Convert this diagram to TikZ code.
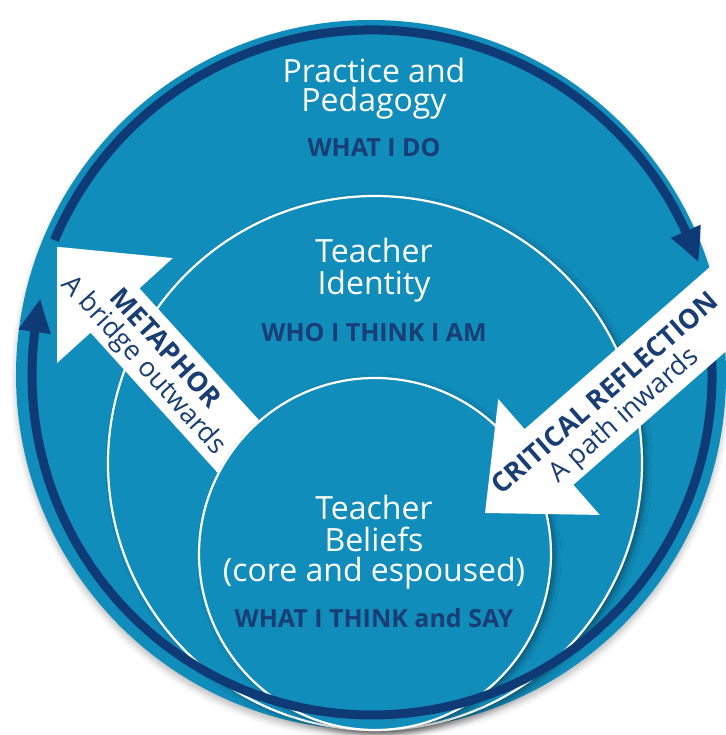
\documentclass[tikz,border=0pt]{standalone}
\usepackage{fontspec}
\setmainfont{Open Sans}
\usetikzlibrary{arrows.meta,shadows.blur,bending}
\definecolor{cblue}{RGB}{17,141,188}
\definecolor{cnavy}{RGB}{14,58,118}
\definecolor{ctext}{RGB}{24,62,115}
\begin{document}
\begin{tikzpicture}[x=1pt,y=1pt,
  outerdisc/.style={fill=cblue, blur shadow={shadow xshift=0pt,shadow yshift=-5pt,shadow blur radius=6pt,shadow opacity=25}},
  rimdisc/.style={fill=cblue, draw=white, line width=2.2pt, blur shadow={shadow xshift=4pt,shadow yshift=-3pt,shadow blur radius=6pt,shadow opacity=40}},
  ring/.style={draw=cnavy, line width=9pt, -{Triangle[length=34pt,width=30pt,bend]}},
  whitearrow/.style={fill=white},
  whitetitle/.style={text=white, font=\fontsize{32}{33}\selectfont, anchor=base, inner sep=0pt},
  navylabel/.style={text=ctext, font=\fontsize{25}{26}\selectfont\bfseries, anchor=base, inner sep=0pt},
  armbold/.style={text=ctext, inner sep=0pt, font=\fontsize{27}{28}\selectfont\bfseries},
  armreg/.style={text=ctext, inner sep=0pt, font=\fontsize{27}{28}\selectfont},
]
\useasboundingbox (0,0) rectangle (725,735);
% outer disc
\path[outerdisc] (371,360) circle[radius=355];
% upper navy arc with arrowhead (right)
\draw[ring] (372,360) ++(157:345) arc[start angle=157, end angle=19, radius=345];
% middle disc
\path[rimdisc] (375,272) circle[radius=267];
% METAPHOR arrow
\begin{scope}[shift={(115,424.5)}, rotate=132.2]
  \fill[whitearrow] (86,0) -- (0,78) -- (0,33) -- (-215,33) -- (-215,-33) -- (0,-33) -- (0,-78) -- cycle;
  \node[armbold, rotate=-47.8] (metaA) at (-62,-13) {METAPHOR};
  \node[armreg, rotate=-47.8] (metaB) at (-60,16) {A bridge outwards};
\end{scope}
% inner disc
\path[rimdisc] (375,181) circle[radius=176];
% lower navy arc with arrowhead (left)
\draw[ring] (372,360) ++(8:340) arc[start angle=8, end angle=-193, radius=340];
% CRITICAL REFLECTION arrow
\begin{scope}[shift={(549,278)}, rotate=221.2]
  \fill[whitearrow] (85,0) -- (0,77) -- (0,37) -- (-270,37) -- (-270,-37) -- (0,-37) -- (0,-77) -- cycle;
  \node[armbold, rotate=41.2] (critA) at (-84,-12) {CRITICAL REFLECTION};
  \node[armreg, rotate=41.2] (critB) at (-84,19) {A path inwards};
\end{scope}
% texts
\node[whitetitle] (p1) at (374,652) {Practice and};
\node[whitetitle] (p2) at (374,623) {Pedagogy};
\node[navylabel] (p3) at (374,578) {WHAT I DO};
\node[whitetitle] (i1) at (374,472) {Teacher};
\node[whitetitle] (i2) at (374,440) {Identity};
\node[navylabel] (i3) at (374,393) {WHO I THINK I AM};
\node[whitetitle] (b1) at (374,215) {Teacher};
\node[whitetitle] (b2) at (374,183) {Beliefs};
\node[whitetitle] (b3) at (374,153) {(core and espoused)};
\node[navylabel] (b4) at (374,107) {WHAT I THINK and SAY};
\end{tikzpicture}
\end{document}
